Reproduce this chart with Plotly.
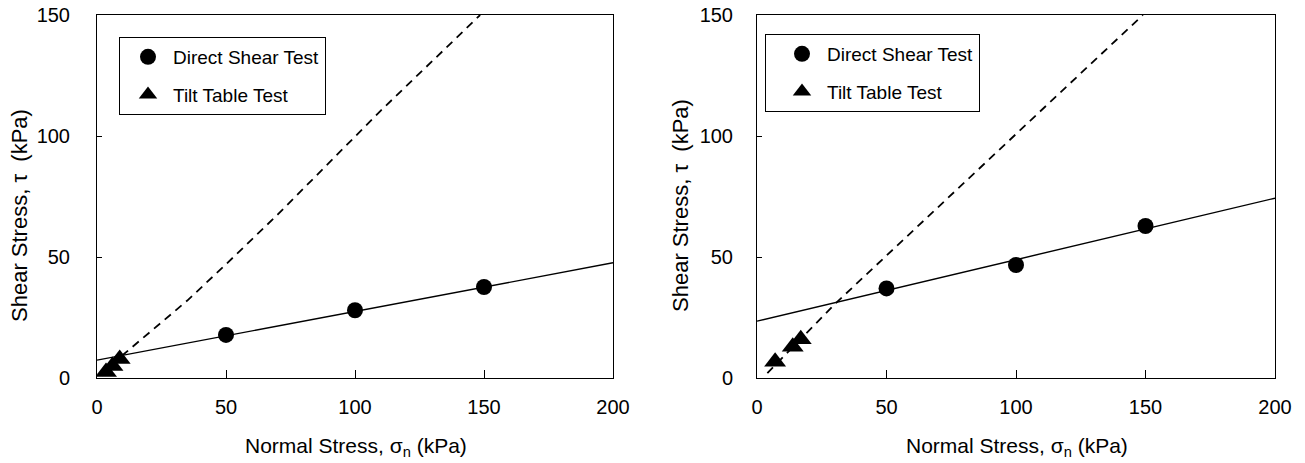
import plotly.graph_objects as go

# ---------------- data ----------------
# Left panel
left_ds_x = [50, 100, 150]
left_ds_y = [17.8, 28.0, 37.6]
left_tt_x = [3.5, 6.0, 8.8]
left_tt_y = [2.5, 5.0, 7.8]
left_fit_x = [0, 200]
left_fit_y = [7.4, 47.6]
left_dash_x = [2, 10, 20, 35, 50, 70, 90, 110, 130, 148.5]
left_dash_y = [1, 9.5, 18.5, 32, 47, 67.5, 89, 110.5, 131, 150]

# Right panel
right_ds_x = [50, 100, 150]
right_ds_y = [37.0, 46.7, 62.8]
right_tt_x = [7.0, 13.8, 16.9]
right_tt_y = [6.7, 12.9, 16.0]
right_fit_x = [0, 200]
right_fit_y = [23.5, 74.3]
right_dash_x = [4, 30, 149]
right_dash_y = [2, 30.5, 150]

x_ticks = [0, 50, 100, 150, 200]
y_ticks = [0, 50, 100, 150]

legend_names = ["Direct Shear Test", "Tilt Table Test"]
x_title = "Normal Stress, σ<sub>n</sub> (kPa)"
y_title = "Shear Stress, τ\u00a0\u00a0(kPa)"

FONT = "Liberation Sans, Arial, sans-serif"

fig = go.Figure()

def add_panel(xa, ya, legend, ds_x, ds_y, tt_x, tt_y, fit_x, fit_y, dash_x, dash_y):
    fig.add_trace(go.Scatter(x=fit_x, y=fit_y, mode="lines",
                             line=dict(color="black", width=1.4),
                             xaxis=xa, yaxis=ya, showlegend=False, hoverinfo="skip"))
    fig.add_trace(go.Scatter(x=dash_x, y=dash_y, mode="lines",
                             line=dict(color="black", width=1.8, dash="8px,6px"),
                             xaxis=xa, yaxis=ya, showlegend=False, hoverinfo="skip"))
    fig.add_trace(go.Scatter(x=ds_x, y=ds_y, mode="markers", name=legend_names[0],
                             marker=dict(symbol="circle", size=16, color="black"),
                             xaxis=xa, yaxis=ya, legend=legend, legendgroup=legend + "a"))
    fig.add_trace(go.Scatter(x=tt_x, y=tt_y, mode="markers", name=legend_names[1],
                             marker=dict(symbol="triangle-up", size=19, color="black"),
                             xaxis=xa, yaxis=ya, legend=legend, legendgroup=legend + "b"))

add_panel("x", "y", "legend", left_ds_x, left_ds_y, left_tt_x, left_tt_y,
          left_fit_x, left_fit_y, left_dash_x, left_dash_y)
add_panel("x2", "y2", "legend2", right_ds_x, right_ds_y, right_tt_x, right_tt_y,
          right_fit_x, right_fit_y, right_dash_x, right_dash_y)

W, H = 1305, 463

def xaxis(dom, anchor):
    return dict(domain=dom, anchor=anchor, range=[0, 200], tickvals=x_ticks,
                ticks="inside", ticklen=8, tickcolor="black", tickwidth=1,
                showline=True, linecolor="black", linewidth=1, mirror=True,
                showgrid=False, zeroline=False, ticklabelstandoff=11,
                automargin=False,
                tickfont=dict(family=FONT, size=20, color="black"))

def yaxis(dom, anchor, standoff):
    return dict(domain=dom, anchor=anchor, range=[0, 150], tickvals=y_ticks,
                ticks="inside", ticklen=5, tickcolor="black", tickwidth=1,
                showline=True, linecolor="black", linewidth=1, mirror=True,
                showgrid=False, zeroline=False, ticklabelstandoff=standoff,
                automargin=False,
                tickfont=dict(family=FONT, size=20, color="black"))

ydom = [1 - 378 / H, 1 - 15 / H]

legend_style = dict(bgcolor="white", bordercolor="black", borderwidth=1,
                    font=dict(family=FONT, size=19, color="black"),
                    xanchor="left", yanchor="top", itemwidth=40,
                    tracegroupgap=10, itemsizing="trace")

fig.update_layout(
    template="none",
    width=W, height=H, autosize=False,
    margin=dict(l=0, r=0, t=0, b=0, pad=0),
    paper_bgcolor="white", plot_bgcolor="white",
    xaxis=xaxis([97 / W, 613 / W], "y"),
    yaxis=yaxis(ydom, "x", 22),
    xaxis2=xaxis([757 / W, 1275 / W], "y2"),
    yaxis2=yaxis(ydom, "x2", 19),
    legend=dict(x=119 / W, y=1 - 37 / H, indentation=3, **legend_style),
    legend2=dict(x=765 / W, y=1 - 34 / H, indentation=11, **legend_style),
    annotations=[
        dict(text=y_title, x=19 / W, y=1 - 216 / H, xref="paper", yref="paper",
             textangle=-90, showarrow=False, xanchor="center", yanchor="middle",
             font=dict(family=FONT, size=22, color="black")),
        dict(text=y_title, x=680 / W, y=1 - 205 / H, xref="paper", yref="paper",
             textangle=-90, showarrow=False, xanchor="center", yanchor="middle",
             font=dict(family=FONT, size=22, color="black")),
        dict(text=x_title, x=356 / W, y=1 - 447 / H, xref="paper", yref="paper",
             showarrow=False, xanchor="center", yanchor="middle",
             font=dict(family=FONT, size=21, color="black")),
        dict(text=x_title, x=1017 / W, y=1 - 447 / H, xref="paper", yref="paper",
             showarrow=False, xanchor="center", yanchor="middle",
             font=dict(family=FONT, size=21, color="black")),
    ],
)

fig.write_html("out.html")
